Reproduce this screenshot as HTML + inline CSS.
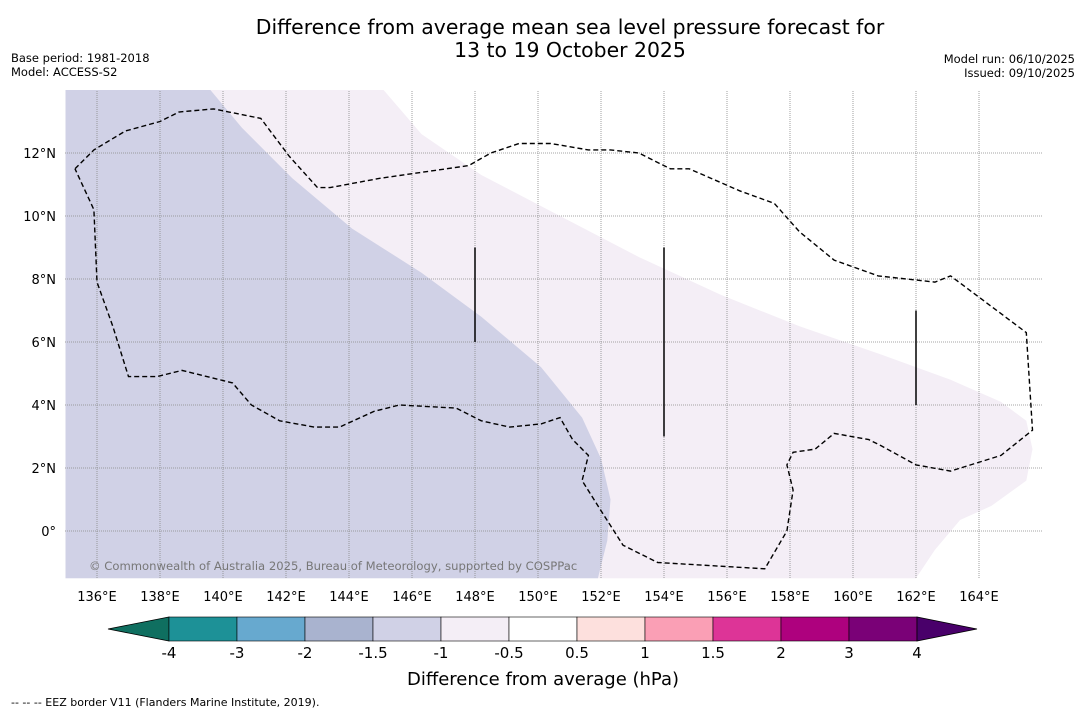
<!DOCTYPE html>
<html><head><meta charset="utf-8"><style>
body{margin:0;background:#fff;font-family:"Liberation Sans",sans-serif}
svg text{font-family:"DejaVu Sans","Liberation Sans",sans-serif}
</style></head><body>
<svg id="s" width="1085" height="713" xmlns="http://www.w3.org/2000/svg">
<text x="570" y="34" font-size="20.4" text-anchor="middle">Difference from average mean sea level pressure forecast for</text>
<text x="570" y="57" font-size="20.4" text-anchor="middle">13 to 19 October 2025</text>
<text x="11" y="62" font-size="11.5">Base period: 1981-2018</text>
<text x="11" y="76" font-size="11.5">Model: ACCESS-S2</text>
<text x="1075" y="63" font-size="11.5" text-anchor="end">Model run: 06/10/2025</text>
<text x="1075" y="77" font-size="11.5" text-anchor="end">Issued: 09/10/2025</text>
<g id="map"></g>
<text x="89" y="570" font-size="11.6" fill="#777">© Commonwealth of Australia 2025, Bureau of Meteorology, supported by COSPPac</text>
<g id="cb"></g>
<text x="543" y="685" font-size="18" text-anchor="middle">Difference from average (hPa)</text>
<text x="11" y="706" font-size="11">--  --  -- EEZ border V11 (Flanders Marine Institute, 2019).</text>
</svg>
<script>
const lonTicks=[136,138,140,142,144,146,148,150,152,154,156,158,160,162,164];
const latTicks=[0,2,4,6,8,10,12];
const cbBounds=["-4","-3","-2","-1.5","-1","-0.5","0.5","1","1.5","2","3","4"];
const cbColors=["#1d9197","#67a9cf","#a9b3cf","#d0d1e6","#f4eef6","#ffffff","#fde0dd","#fa9fb5","#dd3497","#ae017e","#7a0177"];
const darkRegion=[[139.6,14],[140.6,12.8],[142.2,11.2],[144.1,9.6],[146.3,8.2],[148.2,6.8],[150.1,5.2],[151.4,3.6],[152,2.3],[152.3,1],[152.2,-0.3],[151.9,-1.5]];
const lightRegion=[[145.1,14],[146.3,12.6],[148.2,11.3],[150.7,10],[153.2,8.7],[155.8,7.5],[158.3,6.5],[160.9,5.6],[163.1,4.8],[164.7,4.1],[165.5,3.5],[165.7,2.6],[165.5,1.6],[164.4,0.8],[163.4,0.35],[162.6,-0.6],[162,-1.5]];
const eezPath=[[135.3,11.5],[135.9,12.1],[136.9,12.7],[138,13],[138.6,13.3],[139.7,13.4],[141.2,13.1],[142.1,11.9],[143,10.9],[143.4,10.9],[145,11.2],[147.8,11.6],[148.5,12],[149.4,12.3],[150.4,12.3],[151.6,12.1],[152.3,12.1],[153.2,12],[154.2,11.5],[154.8,11.5],[156.4,10.8],[157.5,10.4],[158.3,9.5],[159.4,8.6],[160.8,8.1],[162.6,7.9],[163.1,8.1],[165.5,6.3],[165.7,3.2],[164.7,2.4],[163.1,1.9],[162,2.1],[160.9,2.7],[160.5,2.9],[159.4,3.1],[158.8,2.6],[158.1,2.5],[157.9,2.1],[158.1,1.3],[157.9,0],[157.2,-1.2],[153.8,-1],[152.7,-0.45],[151.9,0.8],[151.4,1.6],[151.6,2.4],[151.1,2.9],[150.7,3.6],[150.1,3.4],[149.1,3.3],[148.2,3.5],[147.4,3.9],[145.6,4],[144.8,3.8],[143.7,3.3],[142.9,3.3],[141.8,3.5],[140.9,4],[140.3,4.7],[138.7,5.1],[137.9,4.9],[137,4.9],[136.5,6.5],[136,7.9],[135.9,10.2],[135.3,11.5]];
const vLines=[[148,6,9],[154,3,9],[162,4,7]];
const X=lon=>65.5+(lon-135)*31.5, Y=lat=>531-lat*31.5;
const NS="http://www.w3.org/2000/svg";
function mk(t,a,p){const e=document.createElementNS(NS,t);for(const k in a)e.setAttribute(k,a[k]);p.appendChild(e);return e;}
const map=document.getElementById('map');
mk('rect',{x:65,y:91,width:977,height:488,fill:'#fff'},map);
const pts=a=>a.map(p=>X(p[0]).toFixed(1)+','+Y(p[1]).toFixed(1)).join(' ');
let e=mk('polygon',{points:pts([[135,14]].concat(lightRegion,[[135,-1.5]])),fill:cbColors[4]},map);


e=mk('polygon',{points:pts([[135,14]].concat(darkRegion,[[135,-1.5]])),fill:cbColors[3]},map);


lonTicks.forEach(l=>{
 let g=mk('line',{x1:X(l),x2:X(l),y1:91,y2:579,stroke:'#888',"stroke-width":0.8,"stroke-dasharray":"1,1"},map);
 
 
 let t=mk('text',{x:X(l),y:601,"font-size":13,"text-anchor":"middle"},map);t.textContent=l+'°E';
 
 
});
latTicks.forEach(l=>{
 let g=mk('line',{x1:65,x2:1042,y1:Y(l),y2:Y(l),stroke:'#888',"stroke-width":0.8,"stroke-dasharray":"1,1"},map);
 
 
 let t=mk('text',{x:56,y:Y(l)+5,"font-size":13,"text-anchor":"end"},map);t.textContent=l+'°'+(l?'N':'');
 
 
});
e=mk('polyline',{points:pts(eezPath),fill:'none',stroke:'#000',"stroke-width":1.4,"stroke-dasharray":"5,3"},map);


vLines.forEach(v=>{
 let l=mk('line',{x1:X(v[0]),x2:X(v[0]),y1:Y(v[2]),y2:Y(v[1]),stroke:'#000',"stroke-width":1.5},map);
 
 
});
const cb=document.getElementById('cb');
const bw=68,x0=169,y0=617,h=24;
let t=mk('polygon',{points:`${x0},${y0} ${x0},${y0+h} 108,${y0+h/2}`,fill:'#0f6f60',stroke:'#000',"stroke-width":0.8},cb);


cbColors.forEach((c,i)=>{
 let r=mk('rect',{x:x0+i*bw,y:y0,width:bw,height:h,fill:c,stroke:'#000',"stroke-width":0.6},cb);
 
 
});
const xe=x0+cbColors.length*bw;
t=mk('polygon',{points:`${xe},${y0} ${xe},${y0+h} 977,${y0+h/2}`,fill:'#49006a',stroke:'#000',"stroke-width":0.8},cb);


cbBounds.forEach((b,i)=>{
 let s=mk('text',{x:x0+i*bw,y:658,"font-size":15,"text-anchor":"middle"},cb);s.textContent=b;
 
 
});
</script>
</body></html>
